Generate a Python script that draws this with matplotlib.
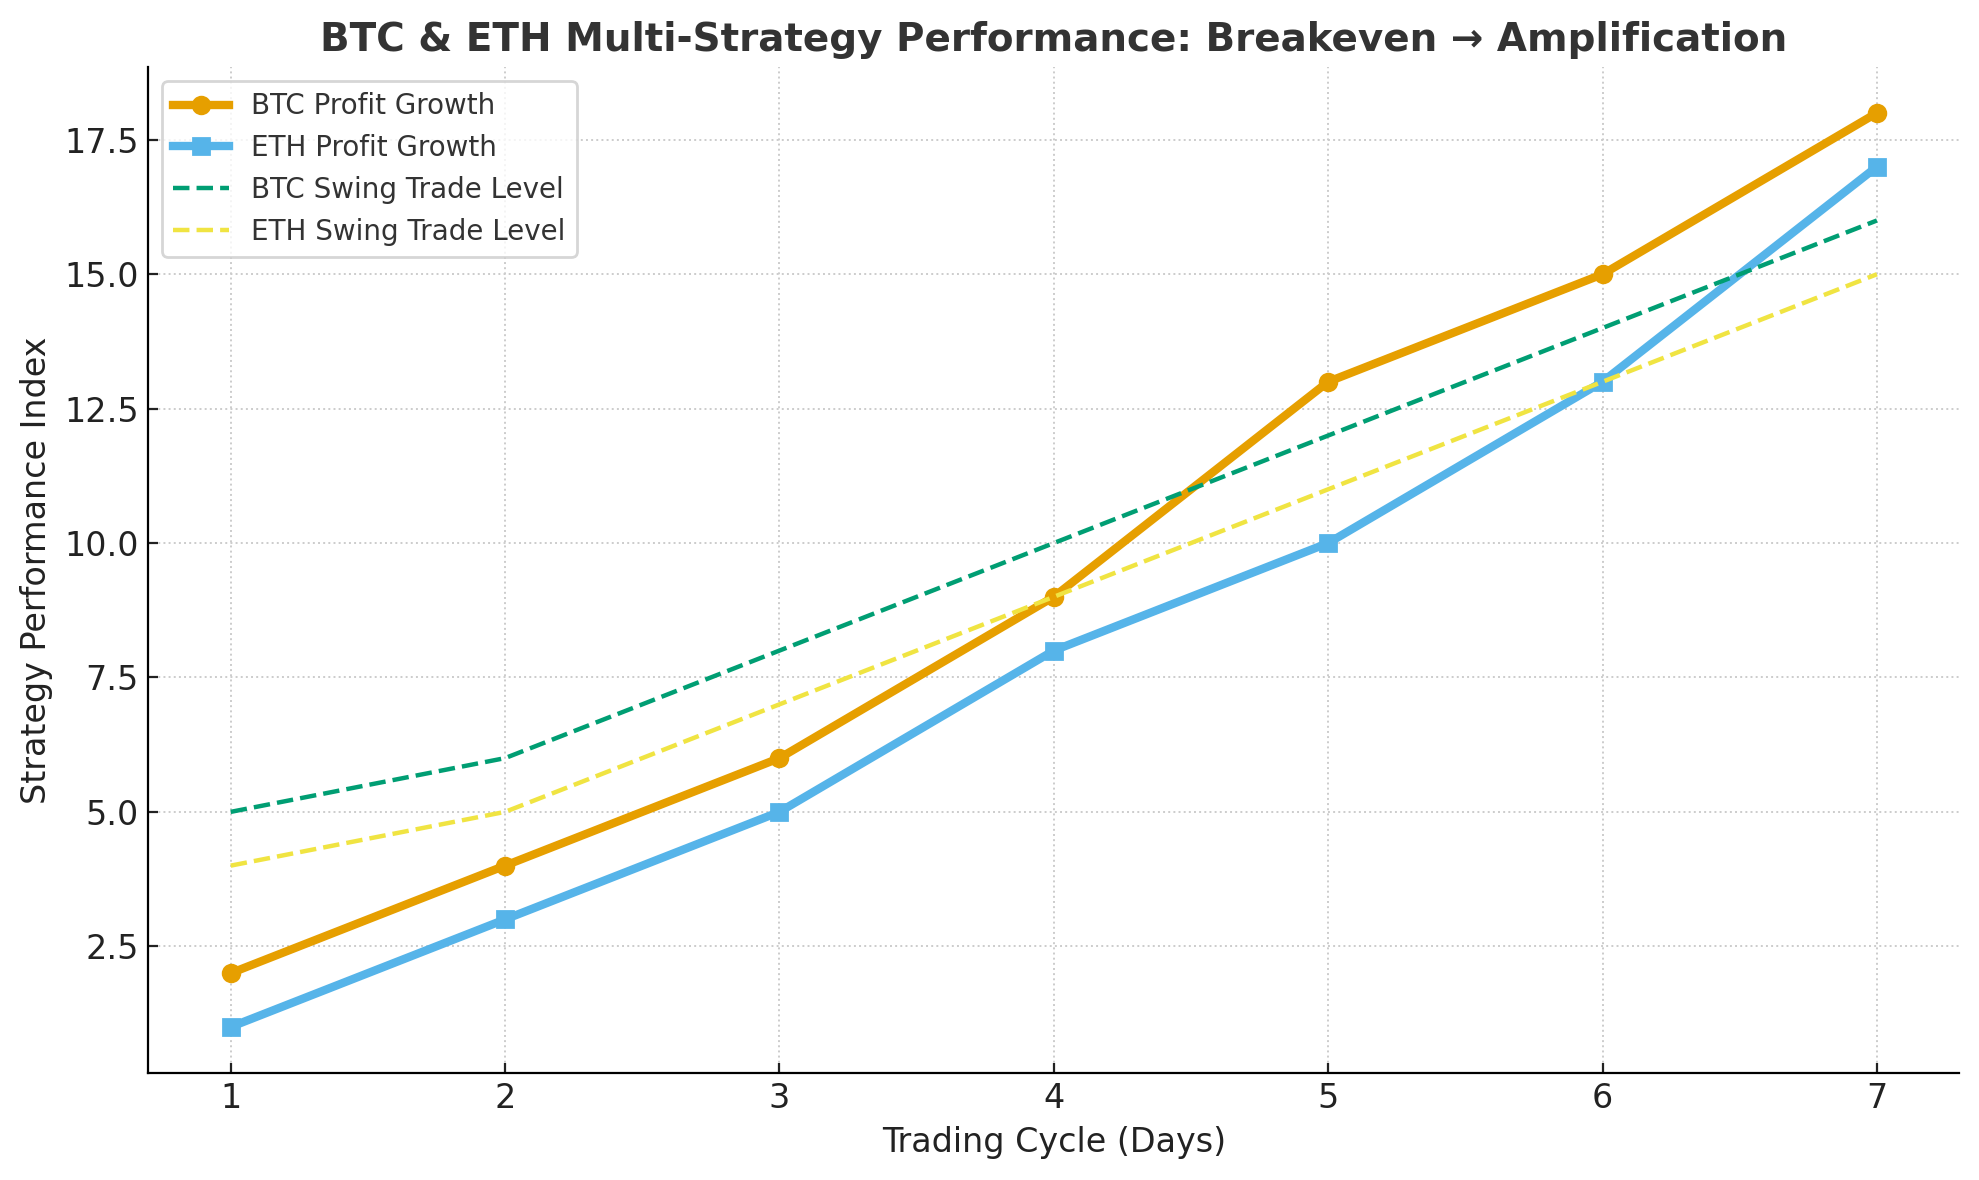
import numpy as np
import matplotlib.pyplot as plt

days = [1, 2, 3, 4, 5, 6, 7]
btc_profit = [2, 4, 6, 9, 13, 15, 18]
eth_profit = [1, 3, 5, 8, 10, 13, 17]
btc_swing = [5, 6, 8, 10, 12, 14, 16]
eth_swing = [4, 5, 7, 9, 11, 13, 15]


def main():
    fig, ax = plt.subplots(figsize=(9.895, 5.9), dpi=200)

    ax.plot(days, btc_profit, color='#E69F00', marker='o', linewidth=3,
            markersize=6, label='BTC Profit Growth')
    ax.plot(days, eth_profit, color='#56B4E9', marker='s', linewidth=3,
            markersize=6, label='ETH Profit Growth')
    ax.plot(days, btc_swing, color='#009E73', linestyle='--', linewidth=1.6,
            label='BTC Swing Trade Level')
    ax.plot(days, eth_swing, color='#F0E442', linestyle='--', linewidth=1.6,
            label='ETH Swing Trade Level')

    ax.set_title('BTC & ETH Multi-Strategy Performance: Breakeven \u2192 Amplification',
                 fontsize=14, fontweight='bold', color='#333333')
    ax.set_xlabel('Trading Cycle (Days)', fontsize=12, color='#222222')
    ax.set_ylabel('Strategy Performance Index', fontsize=12, color='#222222')
    ax.tick_params(labelsize=12, colors='#222222', direction='in')

    ax.grid(True, linestyle=':', linewidth=0.7, color='#cccccc')
    ax.spines['top'].set_visible(False)
    ax.spines['right'].set_visible(False)

    leg = ax.legend(loc='upper left', fontsize=10)
    for t in leg.get_texts():
        t.set_color('#333333')

    fig.subplots_adjust(left=0.075, right=0.99, top=0.943, bottom=0.091)
    fig.savefig('out.png')


if __name__ == "__main__":
    main()
